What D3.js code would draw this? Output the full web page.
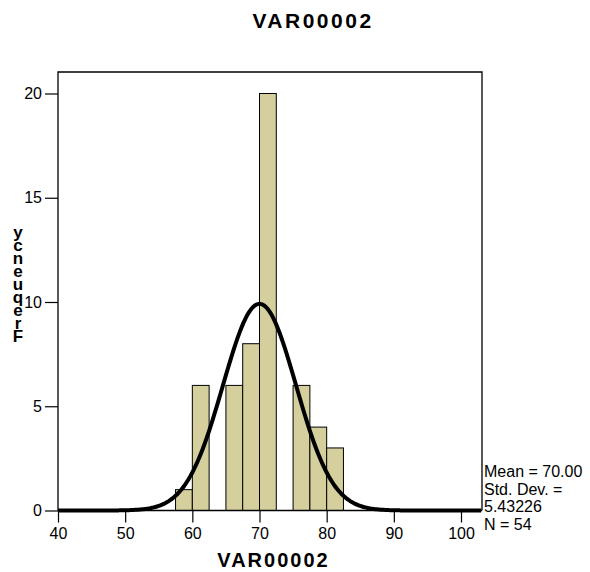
<!DOCTYPE html>
<html><head><meta charset="utf-8">
<script src="https://cdn.jsdelivr.net/npm/d3@7"></script>
<style>body{margin:0;background:#fff;} svg{display:block;font-family:"Liberation Sans",Arial,sans-serif;}</style>
</head><body>
<script>
const binStarts = [57.5, 60, 62.5, 65, 67.5, 70, 72.5, 75, 77.5, 80];
const binCounts = [1, 6, 0, 6, 8, 20, 0, 6, 4, 3];
const binWidth = 2.5;
const xTicks = [40, 50, 60, 70, 80, 90, 100];
const yTicks = [0, 5, 10, 15, 20];
const statMean = 70.00, statSD = 5.43226, statN = 54;
const legendLines = ["Mean = 70.00", "Std. Dev. =", "5.43226", "N = 54"];
const yLabelLetters = ["F","r","e","q","u","e","n","c","y"];

const W = 590, H = 572;
const svg = d3.select("body").append("svg").attr("width", W).attr("height", H);
const L = 58, R = 482, T = 72, B = 510.5;
const x = d3.scaleLinear().domain([40, 100]).range([L, 461]);
const y = d3.scaleLinear().domain([0, 20]).range([B, 93.5]);

// bars
svg.append("g").selectAll("rect").data(binStarts.map((s,i)=>({s, c: binCounts[i]})).filter(d=>d.c>0))
  .join("rect")
  .attr("x", d => x(d.s)).attr("width", d => x(d.s + binWidth) - x(d.s))
  .attr("y", d => y(d.c)).attr("height", d => y(0) - y(d.c))
  .attr("fill", "#d4cf9c").attr("stroke", "#000").attr("stroke-width", 1);

// normal curve derived from shown stats
const curvePts = d3.range(40, x.invert(R) + 0.001, 0.25).map(v => [v,
  statN * binWidth / (statSD * Math.sqrt(2 * Math.PI)) * Math.exp(-0.5 * ((v - statMean) / statSD) ** 2)]);
svg.append("path").datum(curvePts)
  .attr("d", d3.line().x(d => x(d[0])).y(d => y(d[1])).curve(d3.curveBasis))
  .attr("fill", "none").attr("stroke", "#000").attr("stroke-width", 4);

// frame
svg.append("path").attr("d", `M${L},${B}V${T}H${R}V${B}`).attr("fill", "none").attr("stroke", "#000").attr("stroke-width", 1.3);

// axes
const xa = svg.append("g").attr("transform", `translate(0,${B})`)
  .call(d3.axisBottom(x).tickValues(xTicks).tickSize(12).tickPadding(5).tickFormat(d3.format("d")));
const ya = svg.append("g").attr("transform", `translate(${L},0)`)
  .call(d3.axisLeft(y).tickValues(yTicks).tickSize(13).tickPadding(3).tickFormat(d3.format("d")));
[xa, ya].forEach(a => {
  a.select(".domain").remove();
  a.selectAll("line").attr("stroke", "#000").attr("stroke-width", 1.2);
  a.selectAll("text").attr("font-size", 16).attr("fill", "#000").attr("font-family", "Liberation Sans, Arial, sans-serif");
});
svg.append("line").attr("x1", L).attr("x2", R).attr("y1", B).attr("y2", B).attr("stroke", "#000").attr("stroke-width", 1.3);

// titles
svg.append("text").attr("x", 313).attr("y", 28).attr("text-anchor", "middle")
  .attr("font-size", 21).attr("font-weight", "bold").attr("letter-spacing", 2.5).text("VAR00002");
svg.append("text").attr("x", 273.5).attr("y", 566.5).attr("text-anchor", "middle")
  .attr("font-size", 20).attr("font-weight", "bold").attr("letter-spacing", 2).text("VAR00002");

// y label (stacked letters)
svg.append("g").selectAll("text").data(yLabelLetters).join("text")
  .attr("x", 18).attr("y", (d, i) => 342 - i * 13)
  .attr("text-anchor", "middle").attr("font-size", 17).attr("font-weight", "bold").text(d => d);

// legend
svg.append("g").selectAll("text").data(legendLines).join("text")
  .attr("x", 484).attr("y", (d, i) => 477 + i * 17.7)
  .attr("font-size", 16).text(d => d);
</script>
</body></html>
